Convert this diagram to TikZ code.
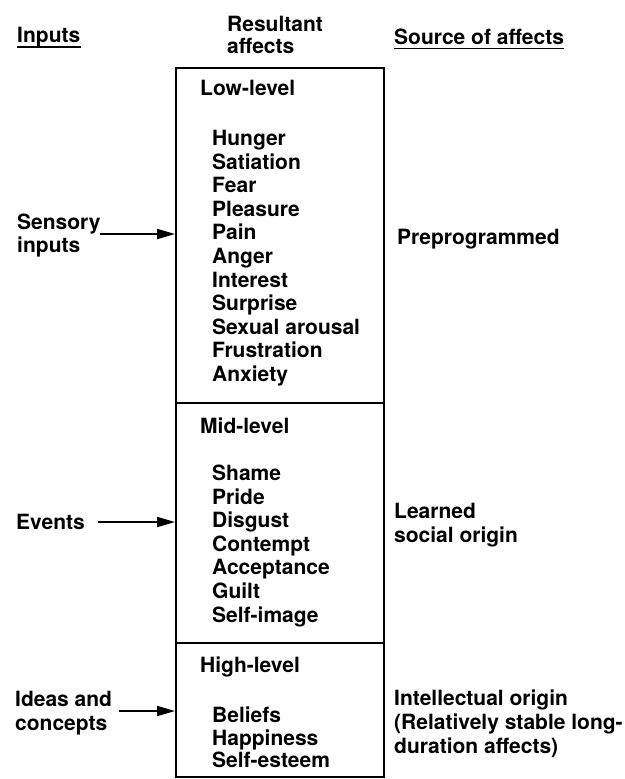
\documentclass[tikz,border=0pt]{standalone}
\usepackage{fontspec}
\setmainfont{TeX Gyre Heros}
\usetikzlibrary{arrows.meta}
\begin{document}
\begin{tikzpicture}[x=1pt,y=-1pt,
  txt/.style={anchor=base west, inner sep=0pt, font=\fontsize{21}{23.6}\selectfont\bfseries},
  sect/.style={draw, line width=2.4pt, inner sep=0pt, anchor=north west, minimum width=208pt},
  arr/.style={line width=2pt, -{Triangle[length=18pt,width=10pt]}},
  uline/.style={line width=1.6pt}]
\useasboundingbox (0,0) rectangle (624,779);
\fill[white] (0,0) rectangle (624,779);

% box sections
\node[sect, minimum height=335pt] (low) at (175,67) {};
\node[sect, minimum height=240pt] (mid) at (175,402) {};
\node[sect, minimum height=134pt] (high) at (175,642) {};

% headers
\node[txt] (hinputs) at (17,42.5) {Inputs};
\draw[uline] ([yshift=-4.5pt]hinputs.base west) -- ([yshift=-4.5pt]hinputs.base east);
\node[txt] (hres1) at (227,31.5) {Resultant};
\node[txt] (hres2) at (227,53.5) {affects};
\node[txt] (hsrc) at (394,44.5) {Source of affects};
\draw[uline] ([yshift=-4pt]hsrc.base west) -- ([yshift=-4pt]hsrc.base east);

% level headings
\node[txt] (lowh) at (200,95.5) {Low-level};
\node[txt] (midh) at (200,433.5) {Mid-level};
\node[txt] (highh) at (200,672.5) {High-level};

% items
\foreach \t [count=\i from 0] in {Hunger,Satiation,Fear,Pleasure,Pain,Anger,Interest,Surprise,Sexual arousal,Frustration,Anxiety}
  \node[txt] (lowi\i) at (212,{145.5+23.6*\i}) {\t};
\foreach \t [count=\i from 0] in {Shame,Pride,Disgust,Contempt,Acceptance,Guilt,Self-image}
  \node[txt] (midi\i) at (212,{480.5+23.6*\i}) {\t};
\foreach \t [count=\i from 0] in {Beliefs,Happiness,Self-esteem}
  \node[txt] (highi\i) at (212,{722.5+22.5*\i}) {\t};

% inputs
\node[txt] (sens1) at (17,229.5) {Sensory};
\node[txt] (sens2) at (17,252.5) {inputs};
\node[txt] (events) at (16,529.5) {Events};
\node[txt] (ideas1) at (15,706.5) {Ideas and};
\node[txt] (ideas2) at (15,730.5) {concepts};

\coordinate (s0) at (100,234);
\coordinate (e0) at (98,522);
\coordinate (i0) at (119,711);
\draw[arr] (s0) -- (s0 -| low.west);
\draw[arr] (e0) -- (e0 -| mid.west);
\draw[arr] (i0) -- (i0 -| high.west);

% sources
\node[txt] (pre) at (397,244.5) {Preprogrammed};
\node[txt] (learn1) at (394,518.5) {Learned};
\node[txt] (learn2) at (394,542.5) {social origin};
\node[txt] (int1) at (394,705.5) {Intellectual origin};
\node[txt] (int2) at (394,729.5) {(Relatively stable long-};
\node[txt] (int3) at (394,753.5) {duration affects)};
\end{tikzpicture}
\end{document}
